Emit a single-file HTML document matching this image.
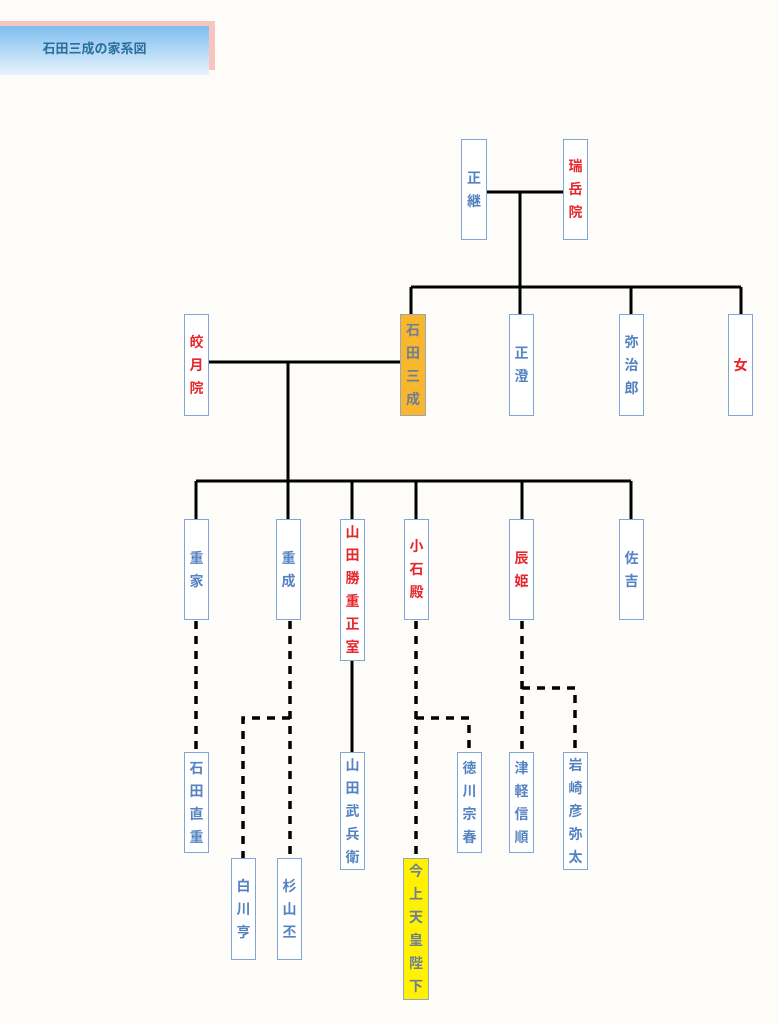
<!DOCTYPE html>
<html><head><meta charset="utf-8"><style>
html,body{margin:0;padding:0;}
body{width:777px;height:1024px;background:#fdfcf8;position:relative;overflow:hidden;font-family:"Liberation Sans","Noto Sans CJK JP",sans-serif;}
.b{position:absolute;box-sizing:border-box;border:1.5px solid #7fa7d6;background:#fff;display:flex;align-items:center;justify-content:center;text-align:center;font-size:14px;font-weight:bold;line-height:23px;color:#5583c2;}
.r{color:#e6262b;}
svg{position:absolute;left:0;top:0;}
</style></head><body>
<div style="position:absolute;left:0;top:21px;width:215px;height:49px;background:#f7c4c0;"></div>
<div style="position:absolute;left:0;top:26px;width:209px;height:49px;background:linear-gradient(#7dbdee,#e8f4fd);display:flex;align-items:center;justify-content:center;font-size:13px;font-weight:bold;color:#2b6f9e;padding-right:20px;padding-bottom:6px;box-sizing:border-box;">石田三成の家系図</div>
<svg width="777" height="1024">
<g stroke="#000" stroke-width="3" fill="none">
<path d="M487 192H563M520 192V287M411 287H741M411 287V314M520 287V314M631 287V314M741 287V314"/>
<path d="M209 362H400M288 362V481M196 481H631M196 481V519M288 481V519M352 481V519M416 481V519M522 481V519M631 481V519"/>
<path d="M352 661V752"/>
</g>
<g stroke="#000" stroke-width="3.5" fill="none" stroke-dasharray="8,7">
<path d="M196 621V752"/>
<path d="M290 621V858"/>
<path d="M290 718H243V858"/>
<path d="M416 621V858"/>
<path d="M416 718H469V752"/>
<path d="M522 621V752"/>
<path d="M522 688H575V752"/>
</g>
</svg>
<div class="b" style="left:461px;top:139px;width:26px;height:101px;">正<br>継</div>
<div class="b r" style="left:563px;top:139px;width:25px;height:101px;">瑞<br>岳<br>院</div>
<div class="b r" style="left:184px;top:314px;width:25px;height:102px;">皎<br>月<br>院</div>
<div class="b" style="left:400px;top:314px;width:26px;height:102px;background:#f8b72c;border-color:#9aa6b8;color:#6f7f96;">石<br>田<br>三<br>成</div>
<div class="b" style="left:509px;top:314px;width:25px;height:102px;">正<br>澄</div>
<div class="b" style="left:619px;top:314px;width:25px;height:102px;">弥<br>治<br>郎</div>
<div class="b r" style="left:728px;top:314px;width:25px;height:102px;">女</div>
<div class="b" style="left:184px;top:519px;width:25px;height:101px;">重<br>家</div>
<div class="b" style="left:276px;top:519px;width:25px;height:101px;">重<br>成</div>
<div class="b r" style="left:340px;top:519px;width:25px;height:142px;">山<br>田<br>勝<br>重<br>正<br>室</div>
<div class="b r" style="left:404px;top:519px;width:25px;height:101px;">小<br>石<br>殿</div>
<div class="b r" style="left:509px;top:519px;width:25px;height:101px;">辰<br>姫</div>
<div class="b" style="left:619px;top:519px;width:25px;height:101px;">佐<br>吉</div>
<div class="b" style="left:184px;top:752px;width:25px;height:101px;">石<br>田<br>直<br>重</div>
<div class="b" style="left:340px;top:752px;width:25px;height:118px;">山<br>田<br>武<br>兵<br>衛</div>
<div class="b" style="left:457px;top:752px;width:25px;height:101px;">徳<br>川<br>宗<br>春</div>
<div class="b" style="left:509px;top:752px;width:25px;height:101px;">津<br>軽<br>信<br>順</div>
<div class="b" style="left:563px;top:752px;width:25px;height:118px;">岩<br>崎<br>彦<br>弥<br>太</div>
<div class="b" style="left:231px;top:858px;width:25px;height:102px;">白<br>川<br>亨</div>
<div class="b" style="left:277px;top:858px;width:25px;height:102px;">杉<br>山<br>丕</div>
<div class="b" style="left:403px;top:858px;width:26px;height:142px;background:#fff200;border-color:#9aa6b8;color:#6f7f96;">今<br>上<br>天<br>皇<br>陛<br>下</div>
</body></html>
